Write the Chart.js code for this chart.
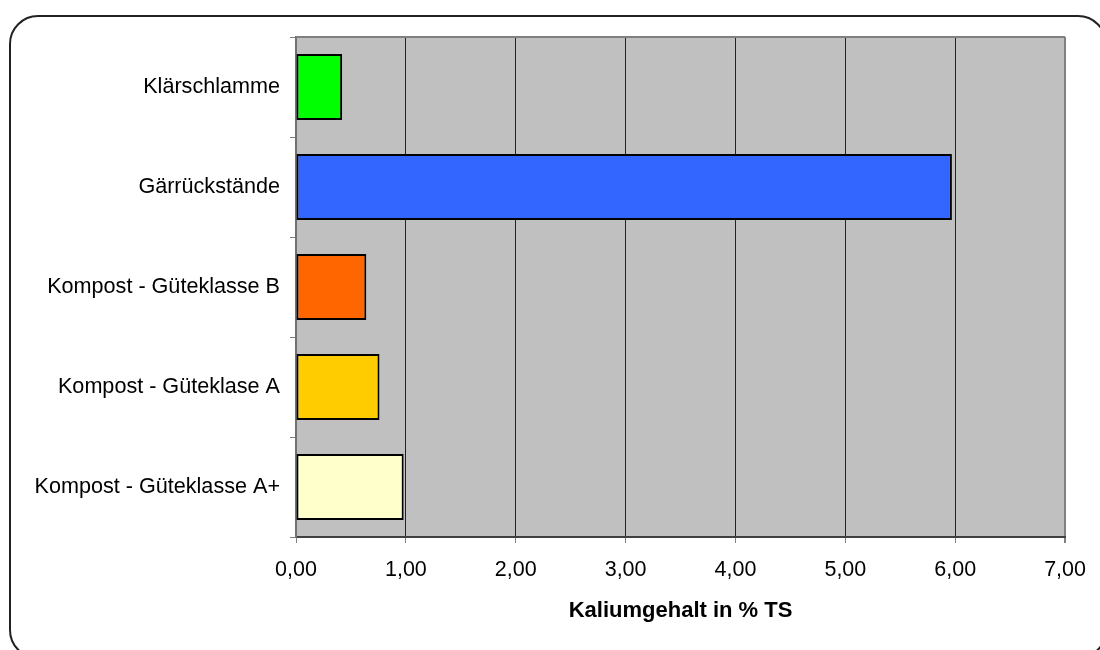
<!DOCTYPE html>
<html>
<head>
<meta charset="utf-8">
<script src="https://cdn.jsdelivr.net/npm/chart.js@4/dist/chart.umd.min.js"></script>
<style>
  html, body { margin: 0; padding: 0; background: #fff; }
  #wrap { width: 1100px; height: 650px; }
</style>
</head>
<body>
<div id="wrap"><canvas id="kaliumChart" width="1100" height="650"></canvas></div>
<script>
// data
const categories = [
    'Klärschlamme',
    'Gärrückstände',
    'Kompost - Güteklasse B',
    'Kompost - Güteklase A',
    'Kompost - Güteklasse A+'
];
const kaliumValues = [0.42, 5.97, 0.64, 0.76, 0.98];
const barColors = ['#00FF00', '#3366FF', '#FF6600', '#FFCC00', '#FFFFCC'];
const xTicks = [0, 1, 2, 3, 4, 5, 6, 7];
const axisTitle = 'Kaliumgehalt in % TS';

// grey plot area + outer rounded frame
const frame = {
    id: 'frame',
    beforeDraw(chart) {
        const { ctx, chartArea: a } = chart;
        ctx.save();
        ctx.fillStyle = '#C0C0C0';
        ctx.fillRect(a.left, a.top, a.right - a.left, a.bottom - a.top);
        ctx.restore();
    },
    afterDraw(chart) {
        const { ctx, chartArea: a } = chart;
        ctx.save();
        // top border of plot area
        ctx.strokeStyle = '#808080';
        ctx.lineWidth = 2;
        ctx.beginPath();
        ctx.moveTo(a.left, a.top);
        ctx.lineTo(a.right, a.top);
        ctx.stroke();
        // rounded outer frame
        ctx.strokeStyle = '#222';
        ctx.lineWidth = 2;
        ctx.beginPath();
        ctx.roundRect(10, 16, 1096, 642, 28);
        ctx.stroke();
        ctx.restore();
    }
};

new Chart(document.getElementById('kaliumChart'), {
    type: 'bar',
    data: {
        labels: categories,
        datasets: [{
            data: kaliumValues,
            backgroundColor: barColors,
            borderColor: '#000',
            borderWidth: 2,
            borderSkipped: false,
            barPercentage: 0.66,
            categoryPercentage: 1
        }]
    },
    options: {
        indexAxis: 'y',
        responsive: false,
        animation: false,
        layout: { padding: { top: 37, right: 34, bottom: 0, left: 0 } },
        plugins: {
            legend: { display: false },
            tooltip: { enabled: false }
        },
        scales: {
            x: {
                min: 0,
                max: 7,
                afterBuildTicks: (s) => { s.ticks = xTicks.map(v => ({ value: v })); },
                afterFit: (s) => { s.height = 113; },
                grid: {
                    color: (c) => c.index === xTicks.length - 1 ? '#808080' : '#222',
                    lineWidth: (c) => c.index === xTicks.length - 1 ? 2 : 1,
                    tickColor: '#808080',
                    tickLength: 6
                },
                border: { color: '#404040', width: 2 },
                ticks: {
                    color: '#000',
                    padding: 14,
                    font: { family: '"Liberation Sans", Arial, sans-serif', size: 21.5 },
                    callback: (v) => Number(v).toFixed(2).replace('.', ',')
                },
                title: {
                    display: true,
                    text: axisTitle,
                    color: '#000',
                    padding: { top: 10, bottom: 26 },
                    font: { family: '"Liberation Sans", Arial, sans-serif', size: 22, weight: 'bold' }
                }
            },
            y: {
                afterFit: (s) => { s.width = 296; },
                grid: {
                    drawOnChartArea: false,
                    tickColor: '#808080',
                    tickLength: 6
                },
                border: { color: '#707070', width: 2 },
                ticks: {
                    color: '#000',
                    padding: 10,
                    font: { family: '"Liberation Sans", Arial, sans-serif', size: 21.6 }
                }
            }
        }
    },
    plugins: [frame]
});
</script>
</body>
</html>
